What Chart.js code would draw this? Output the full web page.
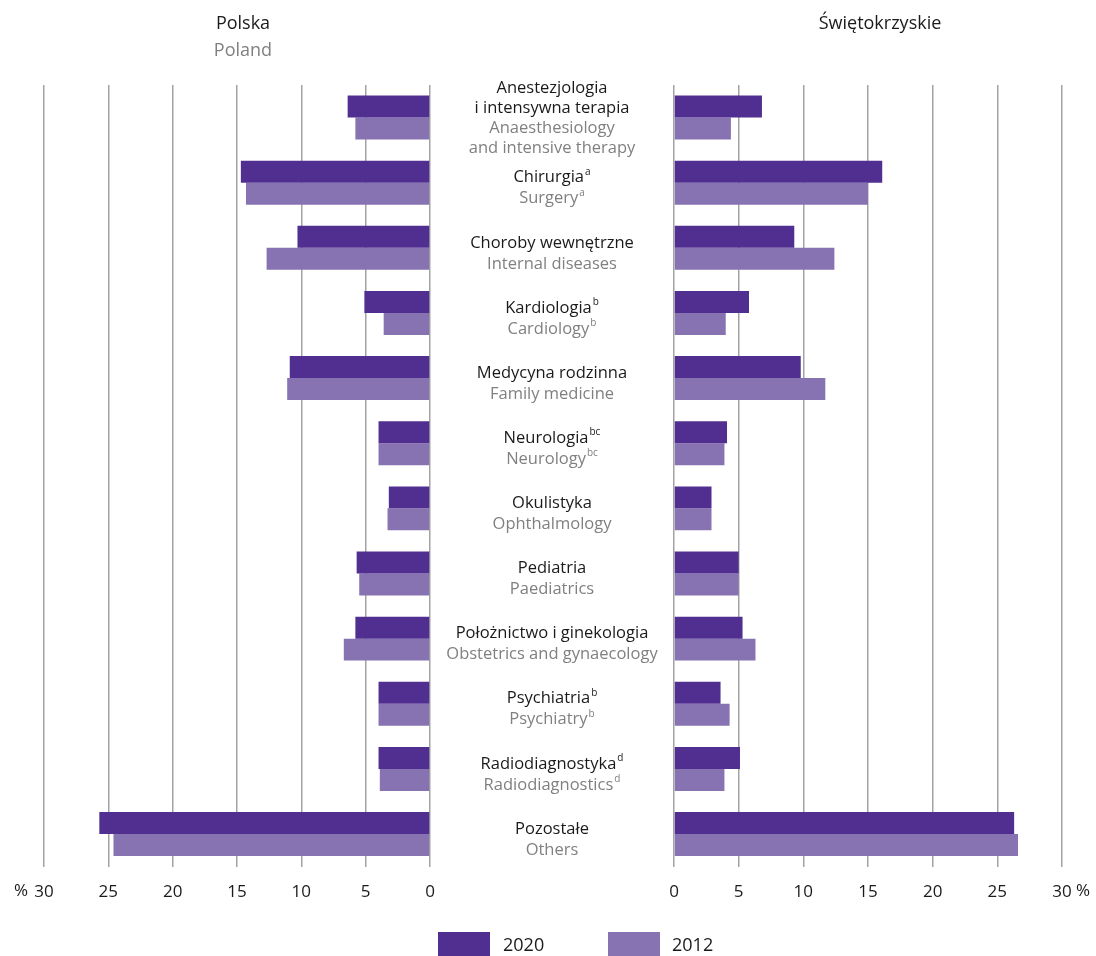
<!DOCTYPE html>
<html>
<head>
<meta charset="utf-8">
<script src="https://cdn.jsdelivr.net/npm/chart.js@4/dist/chart.umd.min.js"></script>
<style>
  body{margin:0;background:#fff;font-family:'Open Sans',sans-serif}
  #wrap{position:relative;width:1096px;height:956px;overflow:hidden}
  #wrap canvas{position:absolute;left:0;top:0}
  .ttl{position:absolute;width:240px;text-align:center;font-size:18px;line-height:26px}
  .leg{position:absolute;top:932px;height:24px;width:52px}
  .legt{position:absolute;top:931px;font-size:18px;line-height:26px;color:#1a1a1a}
</style>
</head>
<body>
<div id="wrap">
  <canvas id="left" width="1096" height="956"></canvas>
  <canvas id="right" width="1096" height="956"></canvas>
  <div class="ttl" style="left:123px;top:9px;color:#1a1a1a">Polska</div>
  <div class="ttl" style="left:123px;top:36px;color:#808080">Poland</div>
  <div class="ttl" style="left:760px;top:9px;color:#1a1a1a">Świętokrzyskie</div>
  <div class="leg" style="left:438px;background:#512f90"></div>
  <div class="legt" style="left:503px">2020</div>
  <div class="leg" style="left:608px;background:#8873b2"></div>
  <div class="legt" style="left:672px">2012</div>
</div>
<script>
// kategorie (PL / EN) + przypisy
const labelsPl = [
  ['Anestezjologia', 'i intensywna terapia'],
  ['Chirurgia'], ['Choroby wewnętrzne'], ['Kardiologia'], ['Medycyna rodzinna'],
  ['Neurologia'], ['Okulistyka'], ['Pediatria'], ['Położnictwo i ginekologia'],
  ['Psychiatria'], ['Radiodiagnostyka'], ['Pozostałe']
];
const labelsEn = [
  ['Anaesthesiology', 'and intensive therapy'],
  ['Surgery'], ['Internal diseases'], ['Cardiology'], ['Family medicine'],
  ['Neurology'], ['Ophthalmology'], ['Paediatrics'], ['Obstetrics and gynaecology'],
  ['Psychiatry'], ['Radiodiagnostics'], ['Others']
];
const notes = ['', 'a', '', 'b', '', 'bc', '', '', '', 'b', 'd', ''];

// wartości w %
const polska2020 = [6.4, 14.7, 10.3, 5.1, 10.9, 4.0, 3.2, 5.7, 5.8, 4.0, 4.0, 25.7];
const polska2012 = [5.8, 14.3, 12.7, 3.6, 11.1, 4.0, 3.3, 5.5, 6.7, 4.0, 3.9, 24.6];
const swiet2020 = [6.8, 16.1, 9.3, 5.8, 9.8, 4.1, 2.9, 5.0, 5.3, 3.6, 5.1, 26.3];
const swiet2012 = [4.4, 15.0, 12.4, 4.0, 11.7, 3.9, 2.9, 5.0, 6.3, 4.3, 3.9, 26.6];

const years = ['2020', '2012'];
const colors = ['#512f90', '#8873b2'];
const ticks = [0, 5, 10, 15, 20, 25, 30];

const cats = labelsPl.map((l, i) => 'c' + i);
const DARK = '#1a1a1a', GREY = '#808080';
const FONT = "'Open Sans', sans-serif";

function makeData(a, b){
  return {
    labels: cats,
    datasets: [a, b].map((d, i) => ({
      label: years[i], data: d, backgroundColor: colors[i],
      barPercentage: 1, categoryPercentage: 0.675
    }))
  };
}

function opts(isLeft){
  return {
    indexAxis: 'y',
    responsive: false,
    animation: false,
    layout: { padding: isLeft ? { left: 44, right: 666, top: 85, bottom: 39 } : { left: 674, right: 34, top: 85, bottom: 39 } },
    plugins: { legend: { display: false }, tooltip: { enabled: false } },
    scales: {
      y: { display: false },
      x: {
        reverse: isLeft, min: 0, max: 30,
        afterBuildTicks: s => { s.ticks = ticks.map(v => ({ value: v })); },
        border: { display: false },
        grid: { color: '#a3a3a3', lineWidth: 1.5, drawTicks: false },
        ticks: { padding: 15, color: DARK, font: { family: FONT, size: 17 } }
      }
    }
  };
}

// znak % przy 30
const percentPlugin = {
  id: 'percent',
  afterDraw(chart, args, o){
    const ctx = chart.ctx;
    const px = chart.scales.x.getPixelForValue(30);
    ctx.save();
    ctx.font = '17px ' + FONT;
    ctx.fillStyle = DARK;
    ctx.textBaseline = 'middle';
    const y = chart.chartArea.bottom + 25;
    if (o.left) { ctx.textAlign = 'right'; ctx.fillText('%', px - 16, y); }
    else { ctx.textAlign = 'left'; ctx.fillText('%', px + 14, y); }
    ctx.restore();
  }
};

function drawLine(ctx, text, note, cx, y, color){
  ctx.font = '16.5px ' + FONT;
  const w = ctx.measureText(text).width;
  ctx.font = '10px ' + FONT;
  const nw = note ? ctx.measureText(note).width + 1 : 0;
  const x0 = cx - (w + nw) / 2;
  ctx.fillStyle = color;
  ctx.font = '16.5px ' + FONT;
  ctx.textAlign = 'left';
  ctx.fillText(text, x0, y);
  if (note){
    ctx.font = '10px ' + FONT;
    ctx.fillText(note, x0 + w + 1, y - 6);
  }
}

// etykiety kategorii na środku
const centerLabels = {
  id: 'centerLabels',
  afterDraw(chart){
    const ctx = chart.ctx, ys = chart.scales.y;
    ctx.save();
    ctx.textBaseline = 'middle';
    labelsPl.forEach((pl, i) => {
      const lines = pl.map(t => [t, DARK]).concat(labelsEn[i].map(t => [t, GREY]));
      const n = lines.length;
      const off = n > 2 ? 0.5 : 5.5;
      const gap = n > 2 ? 20 : 21;
      const cy = ys.getPixelForValue(i) + off;
      lines.forEach((l, j) => {
        const y = cy + (j - (n - 1) / 2) * gap;
        drawLine(ctx, l[0], notes[i], 552, y, l[1]);
      });
    });
    ctx.restore();
  }
};

const oL = opts(true);
oL.plugins.percent = { left: true };
new Chart(document.getElementById('left'), {
  type: 'bar', data: makeData(polska2020, polska2012), options: oL,
  plugins: [percentPlugin, centerLabels]
});
const oR = opts(false);
oR.plugins.percent = { left: false };
new Chart(document.getElementById('right'), {
  type: 'bar', data: makeData(swiet2020, swiet2012), options: oR,
  plugins: [percentPlugin]
});
</script>
</body>
</html>
